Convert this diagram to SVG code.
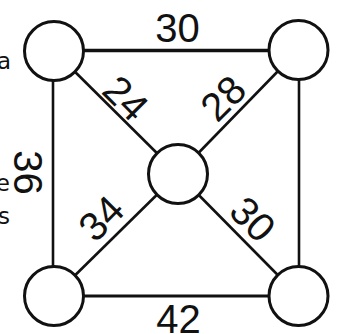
<svg xmlns="http://www.w3.org/2000/svg" width="337" height="334" viewBox="0 0 337 334">
<style>
.edge{stroke:#111;stroke-width:2.6;fill:none}
.node{fill:#fff;stroke:#111;stroke-width:3}
.lbl{font-family:"Liberation Sans",Arial,sans-serif;font-size:40px;fill:#111;text-anchor:middle}
.side{font-family:"DejaVu Sans",sans-serif;font-size:23px;fill:#111;text-anchor:end}
</style>
<rect width="337" height="334" fill="#fff"/>
<g id="connectors">
<line class="edge" x1="54" y1="50.5" x2="298.5" y2="50.5" style="stroke-width:3.6"/>
<line class="edge" x1="53" y1="51" x2="53" y2="296"/>
<line class="edge" x1="299" y1="50" x2="299" y2="296"/>
<line class="edge" x1="54" y1="296" x2="298.5" y2="296" style="stroke-width:3"/>
<line class="edge" x1="54" y1="51" x2="178" y2="174"/>
<line class="edge" x1="298.5" y1="50" x2="178" y2="174"/>
<line class="edge" x1="54" y1="296" x2="178" y2="174"/>
<line class="edge" x1="298.5" y1="296" x2="178" y2="174"/>
</g>
<g id="n-tl"><circle class="node" cx="54" cy="51" r="29.5"/></g>
<g id="n-tr"><circle class="node" cx="298.5" cy="50" r="29.5"/></g>
<g id="n-bl"><circle class="node" cx="54" cy="296" r="29.5"/></g>
<g id="n-br"><circle class="node" cx="298.5" cy="296" r="29.5"/></g>
<g id="n-c"><circle class="node" cx="178" cy="174" r="29.5"/></g>
<g id="labels">
<text class="lbl" x="177.5" y="42">30</text>
<text class="lbl" x="178.5" y="333">42</text>
<text class="lbl" transform="translate(14,172.5) rotate(90)" x="0" y="0">36</text>
<text class="lbl" transform="translate(126,98) rotate(45)" x="0" y="14">24</text>
<text class="lbl" transform="translate(223,98) rotate(-45)" x="0" y="14">28</text>
<text class="lbl" transform="translate(101,218) rotate(-45)" x="0" y="14">34</text>
<text class="lbl" transform="translate(253,219) rotate(45)" x="0" y="14">30</text>
<text class="side" x="11" y="69">a</text>
<text class="side" x="10" y="191">e</text>
<text class="side" x="10" y="224">s</text>
</g>
</svg>
